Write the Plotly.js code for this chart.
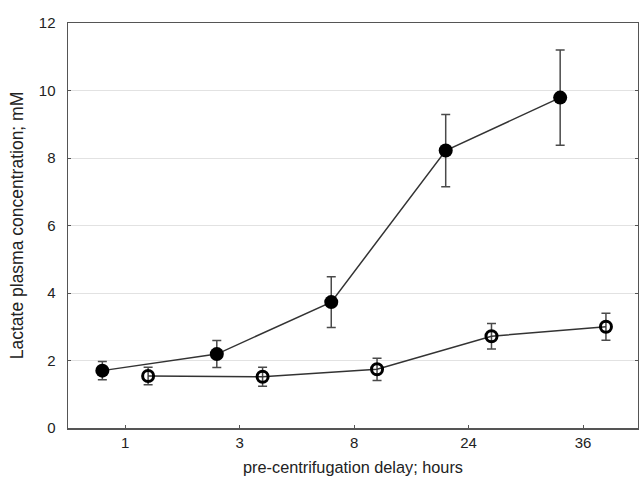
<!DOCTYPE html>
<html>
<head>
<meta charset="utf-8">
<script src="https://cdn.plot.ly/plotly-3.0.1.min.js"></script>
<style>html,body{margin:0;padding:0;background:#fff;}#chart{width:639px;height:477px;}</style>
</head>
<body>
<div id="chart"></div>
<script>
var categories = ['1', '3', '8', '24', '36'];
var filledMean = [1.70, 2.19, 3.73, 8.22, 9.79];
var filledErr  = [0.27, 0.40, 0.75, 1.07, 1.41];
var openMean   = [1.54, 1.52, 1.74, 2.72, 3.00];
var openErr    = [0.26, 0.28, 0.33, 0.38, 0.40];

var idx = categories.map(function (c, i) { return i; });
var shift = 0.2;

var errStyle = {type: 'data', visible: true, color: '#4a4a4a', thickness: 1.5, width: 4.5};

var traces = [
  {
    x: idx.map(function (i) { return i - shift; }),
    y: filledMean,
    mode: 'lines+markers',
    type: 'scatter',
    line: {color: '#333333', width: 1.5},
    marker: {symbol: 'circle', size: 14, color: '#000000'},
    error_y: Object.assign({array: filledErr}, errStyle),
    showlegend: false
  },
  {
    x: idx.map(function (i) { return i + shift; }),
    y: openMean,
    mode: 'lines+markers',
    type: 'scatter',
    line: {color: '#333333', width: 1.5},
    marker: {symbol: 'circle-open', size: 11, color: '#000000', line: {width: 3, color: '#000000'}},
    error_y: Object.assign({array: openErr}, errStyle),
    showlegend: false
  }
];

var layout = {
  width: 639,
  height: 477,
  margin: {l: 68, r: 1, t: 23, b: 49},
  paper_bgcolor: '#ffffff',
  plot_bgcolor: '#ffffff',
  font: {family: 'Liberation Sans, Arial, sans-serif', size: 15, color: '#222222'},
  xaxis: {
    range: [-0.5, 4.48],
    tickvals: idx,
    ticktext: categories,
    showgrid: false,
    zeroline: false,
    showline: true,
    linecolor: '#555555',
    linewidth: 1.5,
    mirror: true,
    ticks: 'inside',
    ticklen: 3,
    tickcolor: '#555555',
    tickfont: {size: 15, color: '#222222'},
    title: {text: 'pre-centrifugation delay; hours', font: {size: 16.3, color: '#222222'}, standoff: 12}
  },
  yaxis: {
    range: [0, 12],
    tickvals: [0, 2, 4, 6, 8, 10, 12],
    showgrid: true,
    gridcolor: '#e2e2e2',
    gridwidth: 1,
    zeroline: false,
    showline: true,
    linecolor: '#555555',
    linewidth: 1.5,
    mirror: 'allticks',
    ticks: 'inside',
    ticklen: 3,
    tickcolor: '#555555',
    ticklabelstandoff: 8,
    tickfont: {size: 15, color: '#222222'},
    title: {text: 'Lactate plasma concentration; mM', font: {size: 17.5, color: '#222222'}, standoff: 10}
  }
};

Plotly.newPlot('chart', traces, layout, {displayModeBar: false, staticPlot: true});
</script>
</body>
</html>
